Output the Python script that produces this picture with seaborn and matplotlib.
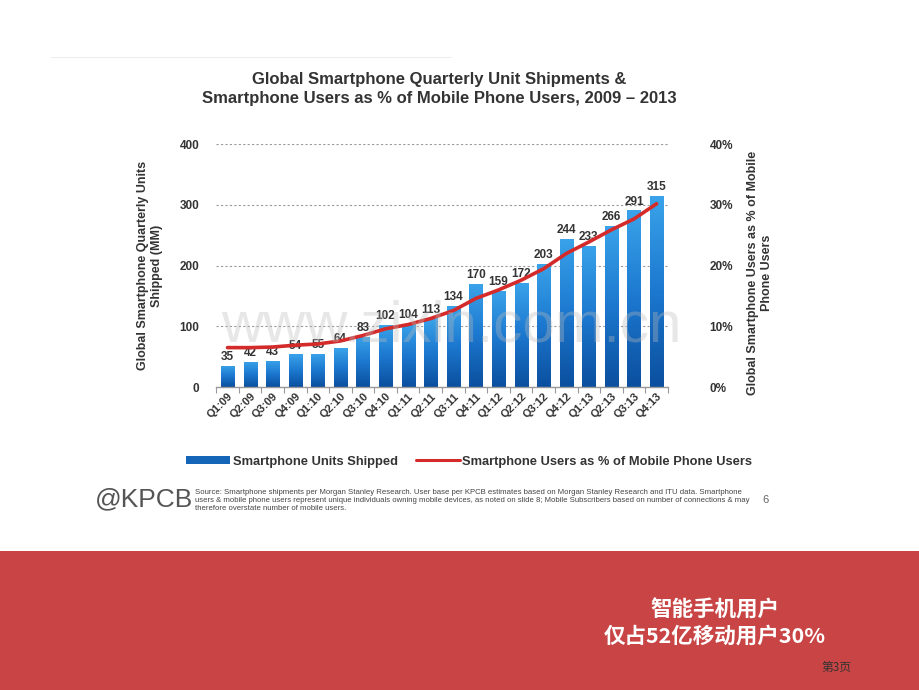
import numpy as np
import pandas as pd
import matplotlib
matplotlib.use('Agg')
import matplotlib.pyplot as plt
import seaborn as sns
from matplotlib.colors import LinearSegmentedColormap
from matplotlib.patches import Rectangle
from matplotlib.lines import Line2D
from matplotlib.ticker import FuncFormatter, FixedLocator

quarters = ['Q1:09', 'Q2:09', 'Q3:09', 'Q4:09', 'Q1:10', 'Q2:10', 'Q3:10', 'Q4:10',
            'Q1:11', 'Q2:11', 'Q3:11', 'Q4:11', 'Q1:12', 'Q2:12', 'Q3:12', 'Q4:12',
            'Q1:13', 'Q2:13', 'Q3:13', 'Q4:13']
units = [35, 42, 43, 54, 55, 64, 83, 102, 104, 113, 134, 170, 159, 172, 203, 244, 233, 266, 291, 315]
user_pct = [6.5, 6.5, 6.6, 6.9, 7.1, 7.6, 8.5, 9.6, 10.3, 11.3, 12.6, 14.6, 16.0, 17.6, 19.5,
            22.0, 23.9, 25.9, 27.7, 30.2]
left_ticks = [0, 100, 200, 300, 400]
right_ticks = [0, 10, 20, 30, 40]

title = 'Global Smartphone Quarterly Unit Shipments &\nSmartphone Users as % of Mobile Phone Users, 2009 \u2013 2013'
left_label = 'Global Smartphone Quarterly Units\nShipped (MM)'
right_label = 'Global Smartphone Users as % of Mobile\nPhone Users'
legend_labels = ['Smartphone Units Shipped', 'Smartphone Users as % of Mobile Phone Users']
source_text = ('Source: Smartphone shipments per Morgan Stanley Research. User base per KPCB estimates based on Morgan Stanley Research and ITU data. Smartphone\n'
               'users & mobile phone users represent unique individuals owning mobile devices, as noted on slide 8; Mobile Subscribers based on number of connections & may\n'
               'therefore overstate number of mobile users.')
banner_text = '智能手机用户\n仅占52亿移动用户30%'
page_text = '第3页'

sns.set_theme(style='white')
plt.rcParams['font.family'] = ['Liberation Sans', 'DejaVu Sans']

TXT = '#333333'
fig = plt.figure(figsize=(9.2, 6.9), dpi=100)
fig.patch.set_facecolor('white')

ax = fig.add_axes([0.235, 0.439, 0.491, 0.352])
df = pd.DataFrame({'q': quarters, 'units': units, 'pct': user_pct})
sns.barplot(data=df, x='q', y='units', ax=ax, color='#1a72c9', width=0.58,
            saturation=1, zorder=2)
ax.set_xlim(-0.5, len(quarters) - 0.5)
ax.set_ylim(0, 400)

# gradient fill on bars
cmap = LinearSegmentedColormap.from_list('bl', ['#0b4f9e', '#1c78cf', '#3aa3ea'])
grad = np.linspace(0, 1, 256).reshape(-1, 1)
for p in list(ax.patches):
    x0, w, h = p.get_x(), p.get_width(), p.get_height()
    im = ax.imshow(grad, extent=[x0, x0 + w, 0, h], origin='lower', aspect='auto',
                   cmap=cmap, zorder=2.1)
    im.set_clip_path(p)
ax.set_xlim(-0.5, len(quarters) - 0.5)
ax.set_ylim(0, 400)
ax.set_aspect('auto')

ax.bar_label(ax.containers[0], fontsize=8.5, fontweight='bold', color=TXT, padding=2)

ax.set_yticks(left_ticks)
ax.yaxis.grid(True, color='#9a9a9a', linestyle=(0, (2, 2)), linewidth=0.8)
ax.set_axisbelow(True)
for s in ['top', 'right', 'left']:
    ax.spines[s].set_visible(False)
ax.spines['bottom'].set_color('#999999')
ax.spines['bottom'].set_linewidth(1.0)
ax.tick_params(axis='y', length=0, labelsize=8.5, labelcolor=TXT, pad=12)
ax.tick_params(axis='x', which='major', length=0, labelsize=8, labelcolor=TXT, pad=3)
ax.xaxis.set_minor_locator(FixedLocator(np.arange(-0.5, len(quarters), 1.0)))
ax.tick_params(axis='x', which='minor', length=4, color='#999999', width=0.8, bottom=True)
for lbl in ax.get_xticklabels():
    lbl.set_rotation(45)
    lbl.set_ha('right')
    lbl.set_rotation_mode('anchor')
    lbl.set_fontweight('bold')
for lbl in ax.get_yticklabels():
    lbl.set_fontweight('bold')
ax.set_xlabel('')
ax.set_ylabel('')

ax2 = ax.twinx()
sns.lineplot(x=np.arange(len(quarters)), y=user_pct, ax=ax2, color='#d42a2a',
             linewidth=2.6, zorder=5)
ax2.set_ylim(0, 40)
ax2.set_yticks(right_ticks)
ax2.yaxis.set_major_formatter(FuncFormatter(lambda v, p: f'{int(v)}%'))
ax2.tick_params(axis='y', length=0, labelsize=8.5, labelcolor=TXT, pad=30)
for lbl in ax2.get_yticklabels():
    lbl.set_fontweight('bold')
for s in ax2.spines.values():
    s.set_visible(False)
ax2.grid(False)
ax2.set_ylabel('')

fig.text(0.163, 0.615, left_label, rotation=90, ha='center', va='center',
         fontsize=9, fontweight='bold', color=TXT, linespacing=1.2)
fig.text(0.826, 0.605, right_label, rotation=90, ha='center', va='center',
         fontsize=9, fontweight='bold', color=TXT, linespacing=1.2)
fig.text(0.477, 0.871, title, ha='center', va='center', fontsize=12,
         fontweight='bold', color=TXT, linespacing=1.4)

# watermark
fig.text(0.49, 0.527, 'www.zixin.com.cn', ha='center', va='center', fontsize=42,
         color='#bbbbbb', alpha=0.35, zorder=10)

handles = [Rectangle((0, 0), 1, 1, facecolor='#1565b8', edgecolor='none'),
           Line2D([0], [0], color='#d42a2a', linewidth=2.2)]
leg = fig.legend(handles, legend_labels, loc='center', bbox_to_anchor=(0.51, 0.331), ncol=2,
                 frameon=False, prop={'weight': 'bold', 'size': 9.3}, handlelength=3.4,
                 handleheight=0.6, handletextpad=0.2, columnspacing=1.4)
for t in leg.get_texts():
    t.set_color(TXT)

fig.add_artist(Line2D([0.055, 0.49], [0.917, 0.917], color='#eeeeee', linewidth=0.8))

fig.text(0.103, 0.276, '@KPCB', ha='left', va='center', fontsize=19,
         color='#555555')
fig.text(0.212, 0.275, source_text, ha='left', va='center', fontsize=5.6,
         color='#444444', linespacing=1.25)
fig.text(0.832, 0.276, '6', ha='center', va='center', fontsize=8, color='#666666')

fig.add_artist(Rectangle((0, 0), 1, 0.2015, transform=fig.transFigure,
                         facecolor='#c94545', edgecolor='none', zorder=0))
fig.text(0.777, 0.097, banner_text, ha='center', va='center', fontsize=15.5,
         fontweight='bold', color='white', linespacing=1.3,
         family=['Noto Sans CJK SC', 'DejaVu Sans'])
fig.text(0.909, 0.032, page_text, ha='center', va='center', fontsize=8.5,
         color='#333333', family=['Noto Sans CJK SC', 'DejaVu Sans'])

fig.savefig('out.png', dpi=100, facecolor='white')
